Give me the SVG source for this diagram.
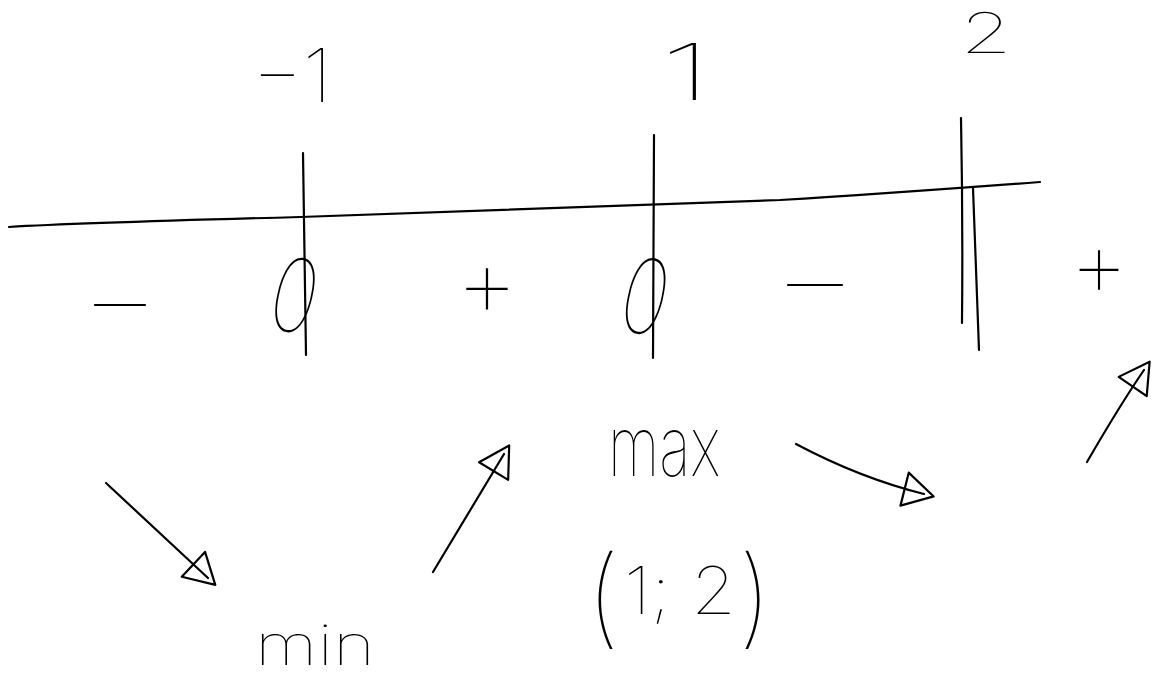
<svg xmlns="http://www.w3.org/2000/svg" width="1154" height="680" viewBox="0 0 1154 680">
<style>
.ink{fill:none;stroke:#000;stroke-width:2.2;stroke-linecap:round;stroke-linejoin:round}
.t{font-family:"Inter","Roboto","Lato","Noto Sans",sans-serif;font-weight:100;fill:#000}
</style>
<defs>
<marker id="head" markerUnits="userSpaceOnUse" markerWidth="48" markerHeight="44" viewBox="-32 -22 48 44" refX="0" refY="0" orient="auto">
<path d="M-20,-17 L10,0 L-20,17 Z" fill="none" stroke="#000" stroke-width="2.2" stroke-linejoin="round"/>
</marker>
</defs>
<rect width="1154" height="680" fill="#fff"/>
<g id="axis">
<path class="ink" d="M9,227 C60,224 150,221 300,217 C500,211 700,203 780,200 C880,194 960,188 1040,182"/>
</g>
<g id="point-minus1">
<path class="ink" d="M303,153 L306,355"/>
<text class="t" x="252" y="102" font-size="74" textLength="80" lengthAdjust="spacingAndGlyphs">−1</text>
<text class="t" x="272" y="332" font-size="102" textLength="46" lengthAdjust="spacingAndGlyphs" transform="rotate(14 294 295)">0</text>
</g>
<g id="point-1">
<path class="ink" d="M654,135 L653,358"/>
<text class="t" x="660" y="100" font-size="78" textLength="52" lengthAdjust="spacingAndGlyphs">1</text>
<text class="t" x="623" y="334" font-size="104" textLength="46" lengthAdjust="spacingAndGlyphs" transform="rotate(14 646 295)">0</text>
</g>
<g id="point-2">
<path class="ink" d="M961,118 Q963,220 962,323"/>
<path class="ink" d="M973,188 Q976,270 979,350"/>
<text class="t" x="960" y="53" font-size="56" textLength="52" lengthAdjust="spacingAndGlyphs">2</text>
</g>
<g id="signs">
<text class="t" x="80" y="331" font-size="90" textLength="80" lengthAdjust="spacingAndGlyphs">−</text>
<text class="t" x="455" y="317" font-size="100" textLength="64" lengthAdjust="spacingAndGlyphs">+</text>
<text class="t" x="772" y="311" font-size="90" textLength="86" lengthAdjust="spacingAndGlyphs">−</text>
<text class="t" x="1069" y="297" font-size="96" textLength="60" lengthAdjust="spacingAndGlyphs">+</text>
</g>
<g id="label-min">
<text class="t" x="255" y="665" font-size="56" textLength="120" lengthAdjust="spacingAndGlyphs">min</text>
</g>
<g id="label-max">
<text class="t" x="608" y="476" font-size="84" textLength="112" lengthAdjust="spacingAndGlyphs">max</text>
</g>
<g id="label-interval">
<text class="t"><tspan x="586" y="634" font-size="108">(</tspan><tspan x="624" y="614" font-size="66" textLength="112" lengthAdjust="spacingAndGlyphs">1; 2</tspan><tspan x="738" y="634" font-size="108">)</tspan></text>
</g>
<g id="connectors">
<path class="ink" marker-end="url(#head)" d="M106,483 Q160,533 208,578"/>
<path class="ink" marker-end="url(#head)" d="M433,572 Q470,510 504,454"/>
<path class="ink" marker-end="url(#head)" d="M796,444 Q860,478 924,494"/>
<path class="ink" marker-end="url(#head)" d="M1087,462 Q1120,405 1144,370"/>
</g>
</svg>
